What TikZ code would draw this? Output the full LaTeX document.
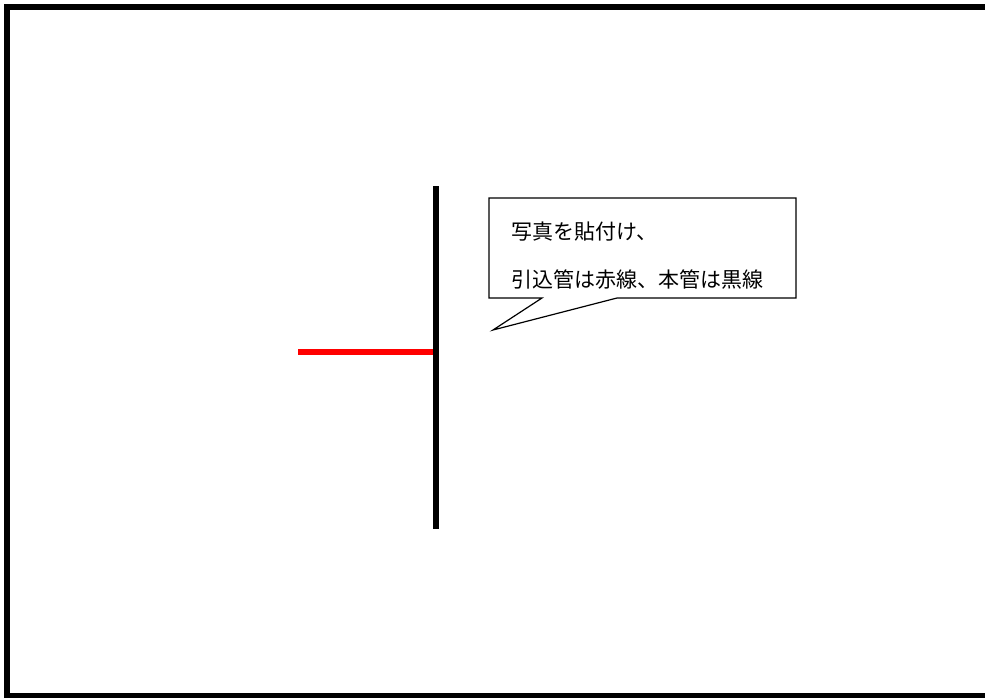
\documentclass[tikz,border=0pt]{standalone}
\usepackage{fontspec}
\newfontfamily\jpfont{Noto Sans CJK JP}
\begin{document}
\begin{tikzpicture}[x=1pt,y=-1pt,
  frameline/.style={line width=6pt,draw=black},
  mainpipe/.style={line width=6pt,draw=black},
  leadpipe/.style={line width=6pt,draw=red},
  callout/.style={draw=black,line width=1.2pt,fill=white,line join=miter},
  note/.style={anchor=west,inner sep=0pt,font=\jpfont\fontsize{21}{24}\selectfont}]
\useasboundingbox (0,0) rectangle (985,698);
\draw[frameline] (7,7) rectangle (995,696);
% pipes
\coordinate (mtop) at (435.5,186);
\coordinate (mbot) at (435.5,529);
\coordinate (lend) at (298,352);
\coordinate (ljoin) at (435.5,352);
\draw[leadpipe] (lend) -- (ljoin);
\draw[mainpipe] (mtop) -- (mbot);
% callout
\coordinate (c1) at (489,198);
\coordinate (c2) at (796,198);
\coordinate (c3) at (796,298);
\coordinate (c4) at (617,298);
\coordinate (tip) at (493,330);
\coordinate (c5) at (542,298);
\coordinate (c6) at (489,298);
\draw[callout] (c1) -- (c2) -- (c3) -- (c4) -- (tip) -- (c5) -- (c6) -- cycle;
\node[note] (t1) at (511,232) {写真を貼付け、};
\node[note] (t2) at (511,280) {引込管は赤線、本管は黒線};
\end{tikzpicture}
\end{document}
